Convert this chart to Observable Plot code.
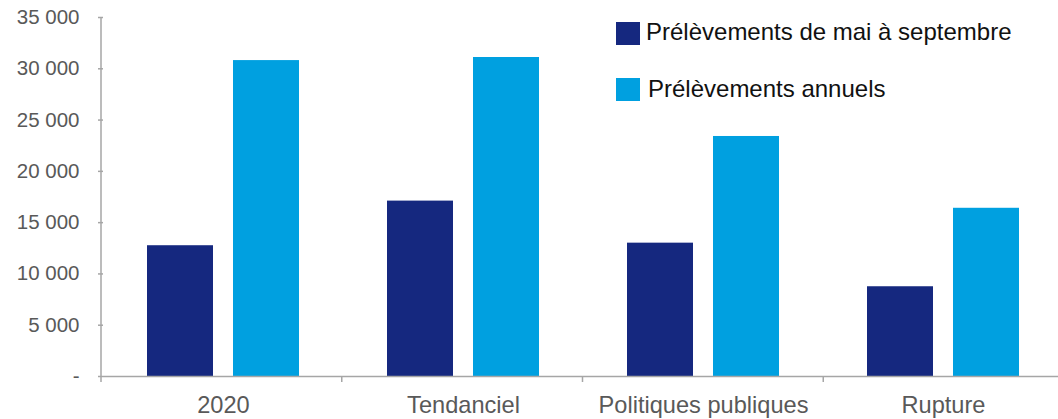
<!DOCTYPE html>
<html><head><meta charset="utf-8">
<script src="https://cdn.jsdelivr.net/npm/d3@7"></script>
<script src="https://cdn.jsdelivr.net/npm/@observablehq/plot@0.6"></script>
<style>
body{margin:0;background:#fff;overflow:hidden;}
#wrap{position:relative;width:1058px;height:419px;overflow:hidden;font-family:"Liberation Sans",Arial,sans-serif;}
#wrap > svg{display:block;max-width:none !important;}
#legend{position:absolute;left:0;top:0;pointer-events:none;}
</style></head><body><div id="wrap"></div>
<script>
const scenarios = ["2020", "Tendanciel", "Politiques publiques", "Rupture"];
const seriesNames = ["Prélèvements de mai à septembre", "Prélèvements annuels"];
const maiSeptembre = [12750, 17100, 13000, 8750];
const annuels = [30800, 31100, 23400, 16400];
const yTicks = [0, 5000, 10000, 15000, 20000, 25000, 30000, 35000];
const colors = ["#15287f", "#00a0e0"];

const table = [];
scenarios.forEach((s, i) => {
  table.push({scenario: s, series: seriesNames[0], value: maiSeptembre[i]});
  table.push({scenario: s, series: seriesNames[1], value: annuels[i]});
});

const fmt = d => d === 0 ? "-" : d3.format(",")(d).replace(/,/g, " ");
const gray = "#a6a6a6";

const chart = Plot.plot({
  width: 1064,
  height: 419,
  marginLeft: 101,
  marginRight: 0,
  marginTop: 17,
  marginBottom: 43,
  style: {fontFamily: '"Liberation Sans", Arial, sans-serif', background: "#fff", maxWidth: "none"},
  fx: {domain: scenarios, padding: 0, label: null},
  x: {domain: seriesNames, paddingInner: 0.231, paddingOuter: 0.509, axis: null},
  y: {domain: [0, 35000], label: null},
  color: {domain: seriesNames, range: colors},
  marks: [
    Plot.barY(table, {fx: "scenario", x: "series", y: "value", fill: "series"}),
    Plot.ruleY([0], {stroke: gray, strokeWidth: 1.5}),
    Plot.axisY({ticks: yTicks, tickFormat: fmt, tickSize: 5, tickPadding: 19, fontSize: 20.5, fill: "#595959", stroke: gray, strokeWidth: 1.5, label: null}),
    Plot.axisFx({anchor: "bottom", tickSize: 0, tickPadding: 20, fontSize: 23.6, fill: "#595959", label: null})
  ]
});

document.getElementById("wrap").appendChild(chart);

// axis line and category boundary ticks, from the library's scales
const fxs = chart.scale("fx");
const ys = chart.scale("y");
const band = d3.scaleBand(fxs.domain, fxs.range)
  .paddingInner(fxs.paddingInner ?? 0)
  .paddingOuter(fxs.paddingOuter ?? 0)
  .align(fxs.align ?? 0.5);
const y0 = ys.apply(0), yTop = ys.apply(d3.max(yTicks));
const g = d3.select(chart).append("g").attr("stroke", gray).attr("stroke-width", 1.5);
g.append("line").attr("x1", band(scenarios[0])).attr("x2", band(scenarios[0])).attr("y1", yTop).attr("y2", y0);
scenarios.forEach(s => {
  g.append("line").attr("x1", band(s)).attr("x2", band(s)).attr("y1", y0).attr("y2", y0 + 6);
});

// legend
const leg = d3.select("#wrap").append("svg").attr("id", "legend").attr("width", 1058).attr("height", 419);
const rows = [{sq: 22, tx: 646, ty: 40}, {sq: 78, tx: 648, ty: 97}];
seriesNames.forEach((name, i) => {
  leg.append("rect").attr("x", 616).attr("y", rows[i].sq).attr("width", 24).attr("height", 23).attr("fill", colors[i]);
  leg.append("text").attr("x", rows[i].tx).attr("y", rows[i].ty)
    .attr("font-family", '"Liberation Sans", Arial, sans-serif').attr("font-size", 24).attr("fill", "#111").text(name);
});
</script>
</body></html>
